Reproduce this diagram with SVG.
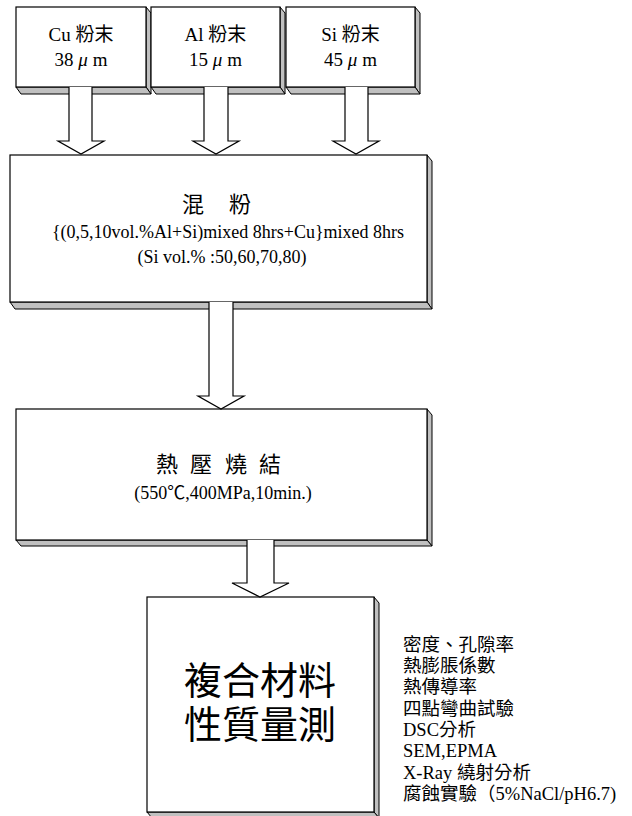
<svg xmlns="http://www.w3.org/2000/svg" width="632" height="816" viewBox="0 0 632 816">
<style>
  .face{fill:#fff;stroke:#000;stroke-width:1.2}
  .shade{fill:#c0c0c0;stroke:#000;stroke-width:1}
  .arrow{fill:#fff;stroke:#000;stroke-width:1.2;stroke-linejoin:miter}
  text{font-family:"Liberation Serif","Noto Sans CJK TC",serif;fill:#000}
  .t19{font-size:19px;text-anchor:middle}
  .t18{font-size:18px;text-anchor:middle}
  .t22{font-size:22px}
  .big{font-size:38px;text-anchor:middle}
  .side{font-size:18.5px}
</style>
<rect width="632" height="816" fill="#fff"/>

<g id="node-cu">
  <polygon class="shade" points="146,7 151,13 151,94 146,87"/>
  <polygon class="shade" points="16,87 146,87 151,94 21,94"/>
  <rect class="face" x="16" y="7" width="130" height="80"/>
  <text class="t19" x="81" y="41">Cu 粉末</text>
  <text class="t19" x="81" y="66">38 <tspan font-style="italic">μ</tspan> m</text>
</g>
<g id="node-al">
  <polygon class="shade" points="280,7 285,13 285,94 280,87"/>
  <polygon class="shade" points="151,87 280,87 285,94 156,94"/>
  <rect class="face" x="151" y="7" width="129" height="80"/>
  <text class="t19" x="215.5" y="41">Al 粉末</text>
  <text class="t19" x="215.5" y="66">15 <tspan font-style="italic">μ</tspan> m</text>
</g>
<g id="node-si">
  <polygon class="shade" points="415,7 420,13 420,94 415,87"/>
  <polygon class="shade" points="286,87 415,87 420,94 291,94"/>
  <rect class="face" x="286" y="7" width="129" height="80"/>
  <text class="t19" x="350.5" y="41">Si 粉末</text>
  <text class="t19" x="350.5" y="66">45 <tspan font-style="italic">μ</tspan> m</text>
</g>

<g id="node-mix">
  <polygon class="shade" points="427,155 432,161 432,309 427,302"/>
  <polygon class="shade" points="10,302 427,302 432,309 15,309"/>
  <rect class="face" x="10" y="155" width="417" height="147"/>
  <text class="t22" x="182" y="212">混</text>
  <text class="t22" x="229" y="212">粉</text>
  <text class="t18" x="228" y="238">{(0,5,10vol.%Al+Si)mixed 8hrs+Cu}mixed 8hrs</text>
  <text class="t18" x="222" y="263">(Si vol.% :50,60,70,80)</text>
</g>

<g id="node-sinter">
  <polygon class="shade" points="427,409 432,415 432,546 427,540"/>
  <polygon class="shade" points="16,540 427,540 432,546 21,546"/>
  <rect class="face" x="16" y="409" width="411" height="131"/>
  <text class="t22" x="156 190 225 259" y="472">熱壓燒結</text>
  <text class="t18" x="223" y="499">(550℃,400MPa,10min.)</text>
</g>

<g id="node-test">
  <polygon class="shade" points="374,597 379,603 379,818 374,812"/>
  <polygon class="shade" points="147,812 374,812 379,818 152,818"/>
  <rect class="face" x="147" y="597" width="227" height="215"/>
  <text class="big" x="260" y="694">複合材料</text>
  <text class="big" x="260" y="738">性質量測</text>
</g>

<g id="node-list">
  <text class="side" x="403" y="651">密度、孔隙率</text>
  <text class="side" x="403" y="672">熱膨脹係數</text>
  <text class="side" x="403" y="693">熱傳導率</text>
  <text class="side" x="403" y="715">四點彎曲試驗</text>
  <text class="side" x="403" y="736">DSC分析</text>
  <text class="side" x="403" y="757">SEM,EPMA</text>
  <text class="side" x="403" y="779">X-Ray 繞射分析</text>
  <text class="side" x="403" y="800">腐蝕實驗（5%NaCl/pH6.7)</text>
</g>

<g id="connectors">
  <path class="arrow" d="M69,87 V141 H58 L81,154 L104,141 H92 V87"/>
  <path class="arrow" d="M204,87 V141 H193 L216,154 L239,141 H228 V87"/>
  <path class="arrow" d="M345,87 V141 H333 L356,154 L379,141 H368 V87"/>
  <path class="arrow" d="M209,302 V396 H198 L221,409 L244,396 H233 V302"/>
  <path class="arrow" d="M247,540 V583 H232 L260,597 L289,583 H274 V540"/>
</g>
</svg>
